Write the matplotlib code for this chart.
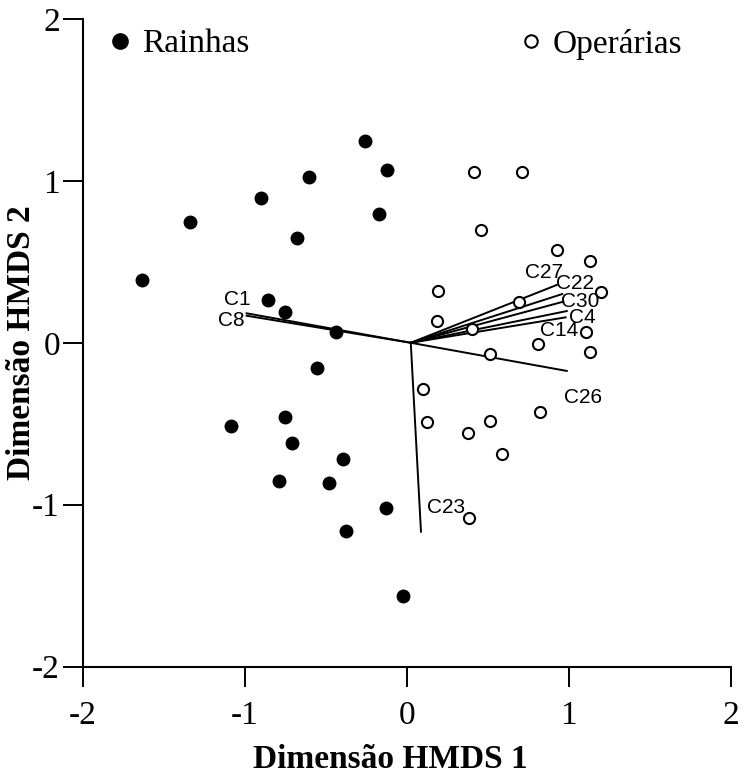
import numpy as np
import matplotlib.pyplot as plt
from matplotlib.lines import Line2D

plt.rcParams['axes.unicode_minus'] = False

# coordenadas HMDS
rainhas_x = [-0.257, -0.123, -0.603, -0.898, -0.173, -1.336, -0.679, -1.634, -0.854, -0.749, -0.438,
             -0.554, -0.751, -1.083, -0.710, -0.395, -0.788, -0.478, -0.126, -0.375, -0.023]
rainhas_y = [1.246, 1.065, 1.022, 0.894, 0.797, 0.744, 0.647, 0.389, 0.264, 0.188, 0.066,
             -0.158, -0.459, -0.512, -0.619, -0.720, -0.854, -0.866, -1.019, -1.161, -1.562]

operarias_x = [0.417, 0.714, 0.459, 0.926, 1.131, 1.198, 0.193, 0.691, 0.187, 0.401, 1.105,
               0.812, 1.133, 0.512, 0.099, 0.825, 0.123, 0.514, 0.377, 0.586, 0.386]
operarias_y = [1.055, 1.055, 0.698, 0.575, 0.503, 0.312, 0.318, 0.250, 0.134, 0.085, 0.066,
               -0.005, -0.057, -0.071, -0.286, -0.426, -0.489, -0.481, -0.559, -0.689, -1.084]

# vetores dos compostos
origem = (0.025, 0.0)
vetores = ['C1', 'C8', 'C26', 'C27', 'C22', 'C30', 'C4', 'C14', 'C23']
vetores_x = [-0.988, -0.988, 0.988, 0.926, 0.960, 0.967, 0.988, 0.981, 0.088]
vetores_y = [0.182, 0.167, -0.174, 0.357, 0.301, 0.254, 0.196, 0.157, -1.167]
rotulos_x = [-1.046, -1.080, 1.086, 0.849, 1.039, 1.070, 1.086, 0.942, 0.243]
rotulos_y = [0.268, 0.136, -0.337, 0.435, 0.367, 0.258, 0.157, 0.074, -1.019]

serif = 'Liberation Serif'
sans = 'Liberation Sans'

fig = plt.figure(figsize=(7.43, 7.8), dpi=100)
ax = fig.add_axes([0.1113, 0.1455, 0.8722, 0.8301])

ax.plot(rainhas_x, rainhas_y, 'o', color='black', markersize=9, linestyle='none')
ax.plot(operarias_x, operarias_y, 'o', markerfacecolor='white', markeredgecolor='black',
        markersize=8, markeredgewidth=1.5, linestyle='none')

for nome, vx, vy, rx, ry in zip(vetores, vetores_x, vetores_y, rotulos_x, rotulos_y):
    ax.plot([origem[0], vx], [origem[1], vy], color='black', linewidth=1.4, zorder=1)
    ax.text(rx, ry, nome, fontsize=15, family=sans, ha='center', va='center')

ax.set_xlim(-2, 2)
ax.set_ylim(-2, 2)
ax.set_xticks([-2, -1, 0, 1, 2])
ax.set_yticks([-2, -1, 0, 1, 2])
ax.spines['top'].set_visible(False)
ax.spines['right'].set_visible(False)
for s in ['left', 'bottom']:
    ax.spines[s].set_linewidth(1.5)
ax.tick_params(axis='both', direction='out', length=14.4, width=1.4, labelsize=24)
ax.tick_params(axis='x', pad=10)
ax.tick_params(axis='y', pad=2)
for lab in ax.get_xticklabels() + ax.get_yticklabels():
    lab.set_family(serif)

xl = ax.set_xlabel('Dimensão HMDS 1', fontsize=24, fontweight='bold', family=serif)
yl = ax.set_ylabel('Dimensão HMDS 2', fontsize=24, fontweight='bold', family=serif)
xl.set_va('center')
yl.set_va('center')
ax.xaxis.set_label_coords(0.474, -0.144)
ax.yaxis.set_label_coords(-0.094, 0.5)

h1 = Line2D([], [], marker='o', color='black', linestyle='none', markersize=11)
h2 = Line2D([], [], marker='o', markerfacecolor='white', markeredgecolor='black',
            markeredgewidth=1.5, linestyle='none', markersize=9)
estilo = dict(frameon=False, loc='center left', borderpad=0, borderaxespad=0,
              handlelength=1.0, handletextpad=0.15, prop={'family': serif, 'size': 24})
leg1 = ax.legend([h1], ['Rainhas'], bbox_to_anchor=(0.032, 0.9614), **estilo)
ax.add_artist(leg1)
ax.legend([h2], ['Operárias'], bbox_to_anchor=(0.666, 0.9614), **estilo)

fig.savefig('out.png', dpi=100)
